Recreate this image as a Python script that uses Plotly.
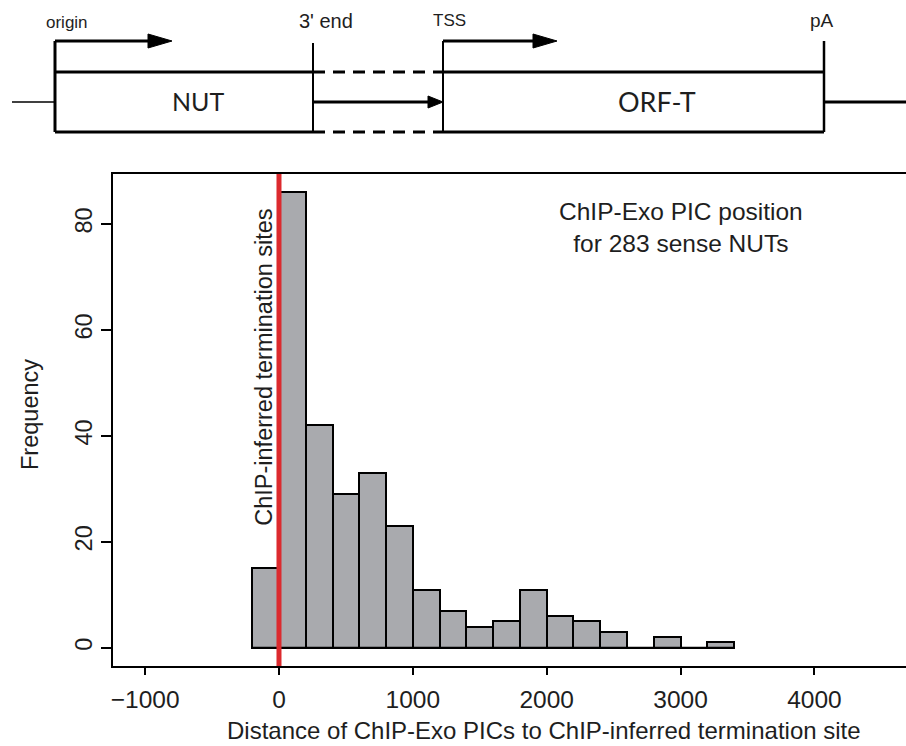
import plotly.graph_objects as go

# Histogram of PIC distances (bin width 200 bp)
bin_left_edges = [-200, 0, 200, 400, 600, 800, 1000, 1200, 1400, 1600,
                  1800, 2000, 2200, 2400, 2600, 2800, 3000, 3200]
bin_width = 200
counts = [15, 86, 42, 29, 33, 23, 11, 7, 4, 5, 11, 6, 5, 3, 0, 2, 0, 1]

x_ticks = [-1000, 0, 1000, 2000, 3000, 4000]
y_ticks = [0, 20, 40, 60, 80]
termination_site = 0

x_title = "Distance of ChIP-Exo PICs to ChIP-inferred termination site"
y_title = "Frequency"
note_text = "ChIP-Exo PIC position<br>for 283 sense NUTs"
line_label = "ChIP-inferred termination sites"

W, H = 906, 746
FONT = "Liberation Sans, Arial, Helvetica, sans-serif"
DIAG_FONT = "Lato, Open Sans, sans-serif"
INK = "#1e1e1e"
SIZE_H = 24.5   # horizontal text
SIZE_V = 23.5   # rotated text

# plot region in pixels
PL, PT, PB = 113, 174, 666

centers = [e + bin_width / 2 for e in bin_left_edges]

fig = go.Figure()
fig.add_trace(go.Bar(
    x=centers, y=counts, width=bin_width,
    marker=dict(color="#a9aaae", line=dict(color="black", width=2)),
    xaxis="x", yaxis="y", showlegend=False, hoverinfo="x+y",
))

shapes = []
annotations = []

# baseline under the histogram (covers empty bins)
shapes.append(dict(type="line", xref="x", yref="y",
                   x0=bin_left_edges[0], x1=bin_left_edges[-1] + bin_width,
                   y0=0, y1=0, line=dict(color="black", width=2), layer="above"))

# red marker line at the termination site
shapes.append(dict(type="line", xref="x", yref="y domain",
                   x0=termination_site, x1=termination_site, y0=0, y1=1,
                   line=dict(color="#dc2a2e", width=5), layer="above"))

annotations.append(dict(text=line_label, xref="x", yref="y", x=-114, y=53,
                        textangle=-90, showarrow=False,
                        xanchor="center", yanchor="middle",
                        font=dict(family=FONT, size=SIZE_V, color=INK)))
annotations.append(dict(text=note_text, xref="x", yref="y", x=3000, y=79.4,
                        showarrow=False, align="center",
                        xanchor="center", yanchor="middle",
                        font=dict(family=FONT, size=SIZE_H, color=INK)))

# axis titles
annotations.append(dict(text=x_title, xref="paper", yref="paper",
                        x=544 / W, y=1 - 730 / H, showarrow=False,
                        xanchor="center", yanchor="middle", borderpad=0,
                        font=dict(family=FONT, size=24, color=INK)))
annotations.append(dict(text=y_title, xref="paper", yref="paper",
                        x=30 / W, y=1 - 415 / H, showarrow=False, textangle=-90,
                        xanchor="center", yanchor="middle",
                        font=dict(family=FONT, size=SIZE_V, color=INK)))

# ---- gene schematic (pixel coordinates on an overlay axis) ----
def seg(x0, y0, x1, y1, w=3, dash="solid"):
    shapes.append(dict(type="line", xref="x2", yref="y2", x0=x0, y0=y0,
                       x1=x1, y1=y1, line=dict(color="black", width=w, dash=dash)))

def head(tip_x, y, length, half):
    shapes.append(dict(type="path", xref="x2", yref="y2",
                       path=f"M{tip_x - length},{y - half} L{tip_x},{y} L{tip_x - length},{y + half} Z",
                       fillcolor="black", line=dict(color="black", width=1)))

def label(text, x, y, size, family=FONT):
    annotations.append(dict(text=text, xref="x2", yref="y2", x=x, y=y,
                            xanchor="center", yanchor="middle",
                            showarrow=False, font=dict(family=family, size=size, color=INK)))

top_y, mid_y, bot_y, arrow_y = 72, 102, 132, 41
origin_x, end_x, tss_x, pa_x = 55, 313, 443, 824

seg(12, mid_y, origin_x, mid_y, w=1.5)
seg(origin_x, arrow_y, origin_x, bot_y, w=3)
seg(origin_x, arrow_y, 152, arrow_y, w=3)
head(172, arrow_y, 24, 7)
seg(origin_x, top_y, end_x, top_y, w=3)
seg(origin_x, bot_y, end_x, bot_y, w=3)
seg(end_x, 43, end_x, bot_y, w=2)
seg(end_x, top_y, tss_x, top_y, w=3, dash="12px,8px")
seg(end_x, bot_y, tss_x, bot_y, w=3, dash="12px,8px")
seg(end_x, mid_y, 430, mid_y, w=3)
head(tss_x, mid_y, 15, 6)
seg(tss_x, arrow_y, tss_x, bot_y, w=2)
seg(tss_x, arrow_y, 537, arrow_y, w=3)
head(557, arrow_y, 24, 7)
seg(tss_x, top_y, pa_x, top_y, w=3)
seg(tss_x, bot_y, pa_x, bot_y, w=3)
seg(pa_x, arrow_y, pa_x, bot_y, w=2.5)
seg(pa_x, mid_y, W, mid_y, w=3)

label("origin", 67, 22, 17)
label("3' end", 326, 21, 20)
label("TSS", 449, 20, 17)
label("pA", 822, 20, 19)
label("NUT", 198, 101, 25, DIAG_FONT)
label("ORF-T", 657, 101, 27, DIAG_FONT)

fig.update_layout(
    width=W, height=H,
    margin=dict(l=0, r=0, t=0, b=0),
    paper_bgcolor="white", plot_bgcolor="white",
    bargap=0,
    showlegend=False,
    shapes=shapes, annotations=annotations,
    xaxis=dict(domain=[PL / W, 1], range=[-1240, 4684],
               tickmode="array", tickvals=x_ticks,
               ticks="outside", ticklen=7, tickwidth=1.5, tickcolor="black",
               ticklabelstandoff=4,
               showline=True, linecolor="black", linewidth=1.5, mirror=True,
               showgrid=False, zeroline=False, automargin=False,
               tickfont=dict(family=FONT, size=SIZE_H, color=INK)),
    yaxis=dict(domain=[1 - PB / H, 1 - PT / H], range=[-3.44, 89.44],
               tickmode="array", tickvals=y_ticks, tickangle=-90,
               ticks="outside", ticklen=10, tickwidth=1.5, tickcolor="black",
               showline=True, linecolor="black", linewidth=1.5, mirror=False,
               showgrid=False, zeroline=False, automargin=False,
               tickfont=dict(family=FONT, size=SIZE_V, color=INK)),
    xaxis2=dict(domain=[0, 1], range=[0, W], visible=False, fixedrange=True),
    yaxis2=dict(domain=[1 - 150 / H, 1], range=[150, 0], visible=False,
                fixedrange=True, anchor="x2"),
)

fig.write_html("out.html")
